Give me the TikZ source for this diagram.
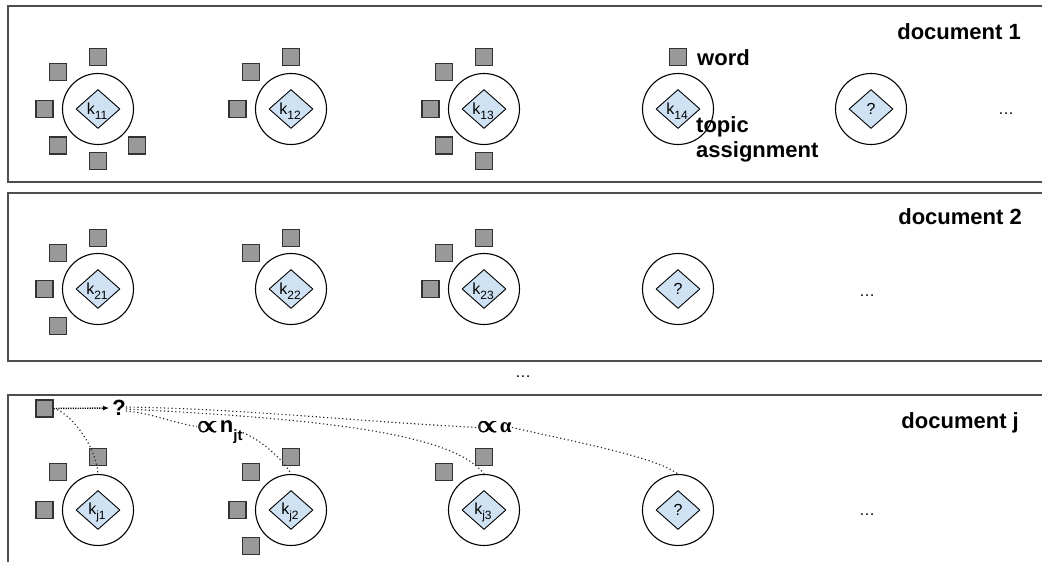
\documentclass[tikz,border=0pt]{standalone}
\usepackage{fontspec}
\setmainfont{Liberation Sans}
\newfontfamily\greekfont{Liberation Serif}
\usetikzlibrary{shapes.geometric,arrows.meta}

\definecolor{wordgray}{HTML}{999999}
\definecolor{wordedge}{HTML}{333333}
\definecolor{topicblue}{HTML}{CFE2F3}
\definecolor{panelline}{HTML}{4D4D4D}

% topic symbol with a lowered index
\newcommand\ksub[1]{k\raisebox{-5pt}{\fontsize{12}{12}\selectfont #1}}
% heavy proportionality sign, stroked a few times side by side
\newcommand\heavyprop{{\fontsize{26}{26}\selectfont\rlap{$\propto$}\rlap{\raisebox{0.6pt}{$\propto$}}\kern0.7pt\rlap{$\propto$}\rlap{\raisebox{0.6pt}{$\propto$}}\kern0.7pt$\propto$}}

\tikzset{
  panel/.style={draw=panelline, line width=1.6pt},
  tablering/.style={circle, draw=black, line width=1.1pt, minimum size=71pt, inner sep=0pt},
  dish/.style={diamond, draw=black, line width=0.9pt, fill=topicblue,
               minimum width=44pt, minimum height=39pt, inner sep=0pt},
  wordbox/.style={rectangle, draw=wordedge, line width=1.1pt, fill=wordgray,
                  minimum size=17pt, inner sep=0pt},
  ksym/.style={inner sep=0pt, font=\fontsize{16}{16}\selectfont},
  boldlabel/.style={inner sep=0pt, font=\fontsize{22}{25}\selectfont\bfseries},
  ellip/.style={inner sep=0pt, font=\fontsize{16}{16}\selectfont},
  choice/.style={line width=1.1pt, dash pattern=on 1.2pt off 2.6pt, draw=black!85},
}

\begin{document}
\begin{tikzpicture}[x=1pt,y=1pt]
\fill[white] (0,0) rectangle (1042,562);
\useasboundingbox (0,0) rectangle (1042,562);

% document frames
\draw[panel] (1050,556) -- (8,556) -- (8,380) -- (1050,380);
\draw[panel] (1050,369) -- (8,369) -- (8,201) -- (1050,201);
\draw[panel] (1050,167) -- (8,167) -- (8,-10);

% tables with their dishes
\foreach \r/\Y in {1/453, 2/273, 3/52} {
  \foreach \c/\X in {1/98, 2/291, 3/484, 4/678} {
    \node[tablering] (c\r\c) at (\X,\Y) {};
    \node[dish] (d\r\c) at (\X,\Y) {};
  }
}
\node[tablering] (c15) at (871,453) {};
\node[dish] (d15) at (871,453) {};

% dish labels
\foreach \r/\c/\t in {1/1/11, 1/2/12, 1/3/13, 1/4/14, 2/1/21, 2/2/22, 2/3/23, 3/1/j1, 3/2/j2, 3/3/j3}
  \node[ksym] (k\r\c) at ([xshift=-1pt,yshift=-2.5pt]d\r\c.center) {\ksub{\t}};
\foreach \r/\c in {1/5, 2/4, 3/4}
  \node[ksym] (k\r\c) at (d\r\c.center) {?};

% customers (words) seated around the tables
\foreach \n/\dx/\dy in {t/0/52, u/-40/37, l/-53.5/0, d/-40/-36.5, b/0/-52, r/39/-36.5}
  \node[wordbox] (w11\n) at ([shift={(\dx,\dy)}]c11.center) {};
\foreach \n/\dx/\dy in {t/0/52, u/-40/37, l/-53.5/0}
  \node[wordbox] (w12\n) at ([shift={(\dx,\dy)}]c12.center) {};
\foreach \n/\dx/\dy in {t/0/52, u/-40/37, l/-53.5/0, d/-40/-36.5, b/0/-52}
  \node[wordbox] (w13\n) at ([shift={(\dx,\dy)}]c13.center) {};
\node[wordbox] (w14t) at ([shift={(0,52)}]c14.center) {};

\foreach \n/\dx/\dy in {t/0/51, u/-40/36, l/-53.5/0, d/-40/-37}
  \node[wordbox] (w21\n) at ([shift={(\dx,\dy)}]c21.center) {};
\foreach \n/\dx/\dy in {t/0/51, u/-40/36}
  \node[wordbox] (w22\n) at ([shift={(\dx,\dy)}]c22.center) {};
\foreach \n/\dx/\dy in {t/0/51, u/-40/36, l/-53.5/0}
  \node[wordbox] (w23\n) at ([shift={(\dx,\dy)}]c23.center) {};

\foreach \n/\dx/\dy in {t/0/53, u/-40/38, l/-53.5/0}
  \node[wordbox] (w31\n) at ([shift={(\dx,\dy)}]c31.center) {};
\foreach \n/\dx/\dy in {t/0/53, u/-40/38, l/-53.5/0, d/-40/-36}
  \node[wordbox] (w32\n) at ([shift={(\dx,\dy)}]c32.center) {};
\foreach \n/\dx/\dy in {t/0/53, u/-40/38}
  \node[wordbox] (w33\n) at ([shift={(\dx,\dy)}]c33.center) {};

% legend
\node[boldlabel, anchor=west] (wordlbl) at (697,504) {word};
\node[boldlabel, anchor=west, align=left] (topiclbl) at (696,422.5) {topic\\assignment};

% document titles
\node[boldlabel, anchor=base east] (doc1) at (1021,522) {document 1};
\node[boldlabel, anchor=base east] (doc2) at (1022,337) {document 2};
\node[boldlabel, anchor=base east] (docj) at (1019,133) {document j};

% ellipses
\node[ellip, anchor=base] (more1) at (1006,447) {…};
\node[ellip, anchor=base] (more2) at (867,265) {…};
\node[ellip, anchor=base] (moredocs) at (523,184) {…};
\node[ellip, anchor=base] (morej) at (867,46) {…};

% new word and its seating choice
\node[wordbox] (wj) at (44.5,153.5) {};
\node[boldlabel] (q) at (119,154) {?};
\node[boldlabel, anchor=base west] (njt) at (197,129)
  {\heavyprop\kern2pt n\raisebox{-8pt}{\fontsize{15}{15}\selectfont jt}};
\node[boldlabel, anchor=base west] (alph) at (477,129)
  {\heavyprop\kern2pt{\greekfont\fontsize{21}{21}\selectfont α}};

\draw[line width=1.4pt, dash pattern=on 1.2pt off 1.2pt, shorten >=3pt,
      -{Latex[length=6pt,width=5pt]}] (wj.east) -- (q.west);

\draw[choice] (wj.east) .. controls +(15,-3) and +(-2,30) .. (c31.north);
\draw[choice] ([yshift=-3pt]q.east) .. controls +(25,-2) and +(-25,4) .. ([yshift=6pt]njt.west);
\draw[choice] (njt.east) .. controls +(20,-8) and +(-6,12) .. (c32.north);
\draw[choice] ([yshift=-1pt]q.east) .. controls +(200,-10) and +(-30,40) .. (c33.north);
\draw[choice] ([yshift=1pt]q.east) .. controls +(120,-2) and +(-120,6) .. (alph.west);
\draw[choice] (alph.east) .. controls +(60,-14) and +(-25,18) .. (c34.north);
\end{tikzpicture}
\end{document}
